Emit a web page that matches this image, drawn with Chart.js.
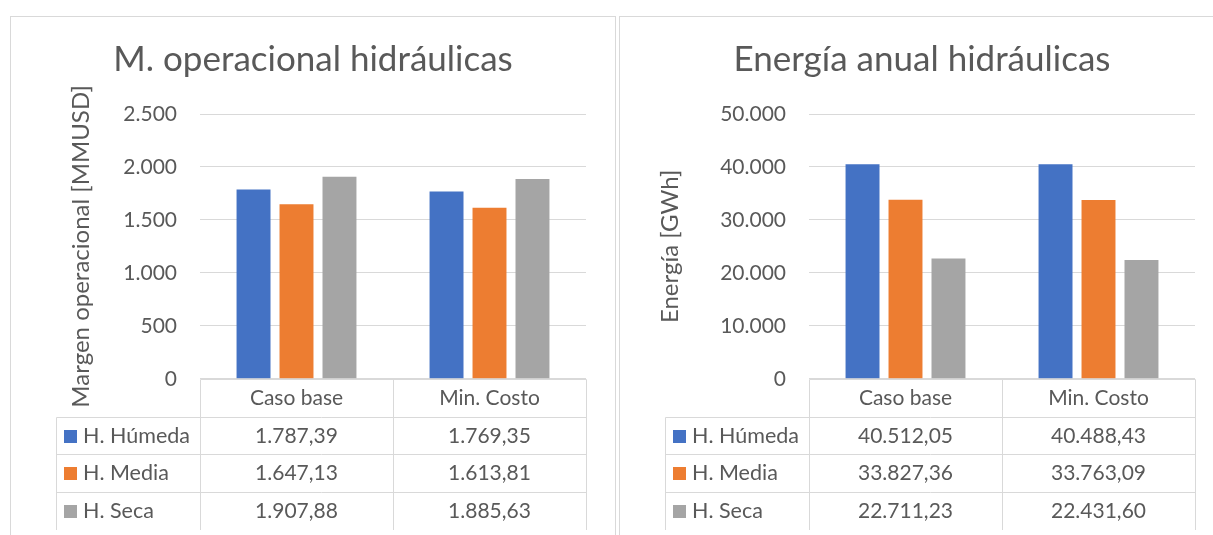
<!DOCTYPE html>
<html>
<head>
<meta charset="utf-8">
<title>Hidráulicas</title>
<script src="https://cdn.jsdelivr.net/npm/chart.js@4.4.1/dist/chart.umd.min.js"></script>
<style>
  html, body { margin: 0; padding: 0; background: #fff; width: 1213px; height: 535px; overflow: hidden; }
  .box { position: absolute; top: 16px; width: 604px; height: 540px; border: 1px solid #d9d9d9; background: #fff; overflow: hidden; }
  #box1 { left: 10px; }
  #box2 { left: 619px; }
  canvas { position: absolute; left: 0; top: 0; }
</style>
</head>
<body>
<div class="box" id="box1"><canvas id="chart-margen" width="604" height="513"></canvas></div>
<div class="box" id="box2"><canvas id="chart-energia" width="604" height="513"></canvas></div>

<script>
// ==========================
// DATOS
// ==========================
var categories  = ['Caso base', 'Min. Costo'];
var seriesNames = ['H. Húmeda', 'H. Media', 'H. Seca'];
var seriesColors = ['#4472C4', '#ED7D31', '#A5A5A5'];

var margenHumeda = [1787.39, 1769.35];
var margenMedia  = [1647.13, 1613.81];
var margenSeca   = [1907.88, 1885.63];

var energiaHumeda = [40512.05, 40488.43];
var energiaMedia  = [33827.36, 33763.09];
var energiaSeca   = [22711.23, 22431.60];

var FONT  = 'Lato';
var TEXT  = '#595959';
var LINES = '#d9d9d9';
var ROW_H = 37.8;

// 1787.39 -> "1.787,39"
function fmtNum(v, dec) {
  var parts = v.toFixed(dec).split('.');
  var ent = parts[0].replace(/\B(?=(\d{3})+(?!\d))/g, '.');
  return dec ? ent + ',' + parts[1] : ent;
}

// ==========================
// TABLA DE DATOS (debajo del eje)
// ==========================
var dataTablePlugin = {
  id: 'dataTable',
  afterDraw: function(chart) {
    var ctx = chart.ctx;
    var area = chart.chartArea;
    var xs = chart.scales.x;
    var tableLeft = 45;
    var y0 = area.bottom;
    var rows = [];
    for (var i = 0; i <= 4; i++) rows.push(Math.round(y0 + i * ROW_H) + 0.5);

    var half = (xs.getPixelForValue(1) - xs.getPixelForValue(0)) / 2;
    var cols = [area.left];
    for (var c = 0; c < categories.length; c++) {
      cols.push(xs.getPixelForValue(c) + half);
    }
    cols = cols.map(function(x) { return Math.round(x) + 0.5; });

    ctx.save();
    ctx.strokeStyle = LINES;
    ctx.lineWidth = 1;
    ctx.beginPath();
    // horizontales
    ctx.moveTo(cols[0], rows[0]); ctx.lineTo(cols[cols.length - 1], rows[0]);
    for (var r = 1; r <= 4; r++) {
      ctx.moveTo(tableLeft + 0.5, rows[r]); ctx.lineTo(cols[cols.length - 1], rows[r]);
    }
    // verticales
    ctx.moveTo(tableLeft + 0.5, rows[1]); ctx.lineTo(tableLeft + 0.5, rows[4]);
    cols.forEach(function(x) { ctx.moveTo(x, rows[0]); ctx.lineTo(x, rows[4]); });
    ctx.stroke();

    ctx.fillStyle = TEXT;
    ctx.font = '21px ' + FONT;
    ctx.textBaseline = 'middle';
    ctx.textAlign = 'center';
    categories.forEach(function(cat, k) {
      ctx.fillText(cat, xs.getPixelForValue(k), (rows[0] + rows[1]) / 2);
    });

    chart.data.datasets.forEach(function(ds, s) {
      var cy = (rows[s + 1] + rows[s + 2]) / 2;
      ctx.fillStyle = ds.backgroundColor;
      ctx.fillRect(tableLeft + 8, Math.round(cy - 6.5), 13, 13);
      ctx.fillStyle = TEXT;
      ctx.textAlign = 'left';
      ctx.font = '21.5px ' + FONT;
      ctx.fillText(ds.label, tableLeft + 27, cy);
      ctx.font = '21px ' + FONT;
      ctx.textAlign = 'center';
      ds.data.forEach(function(v, k) {
        ctx.fillText(fmtNum(v, 2), xs.getPixelForValue(k), cy);
      });
    });
    ctx.restore();
  }
};

// ==========================
// GRAFICO
// ==========================
function makeChart(canvasId, title, yTitle, yMax, yStep, series, yTitlePad) {
  var datasets = series.map(function(values, i) {
    return {
      label: seriesNames[i],
      data: values,
      backgroundColor: seriesColors[i],
      borderWidth: 0,
      categoryPercentage: 0.668,
      barPercentage: 0.79
    };
  });

  return new Chart(document.getElementById(canvasId), {
    type: 'bar',
    data: { labels: categories, datasets: datasets },
    plugins: [dataTablePlugin],
    options: {
      responsive: false,
      animation: false,
      layout: { padding: 0 },
      plugins: {
        legend: { display: false },
        tooltip: { enabled: false },
        title: {
          display: true,
          text: title,
          color: TEXT,
          font: { family: FONT, size: 35, weight: 'normal' },
          padding: { top: 22, bottom: 33 }
        }
      },
      scales: {
        x: {
          ticks: { display: false },
          grid: { display: false },
          border: { display: false },
          afterFit: function(scale) { scale.height = 4 * ROW_H; }
        },
        y: {
          min: 0,
          max: yMax,
          ticks: {
            stepSize: yStep,
            padding: 23,
            color: TEXT,
            font: { family: FONT, size: 21 },
            callback: function(v) { return fmtNum(v, 0); }
          },
          grid: { color: LINES, lineWidth: 1, drawTicks: false },
          border: { display: false },
          title: {
            display: true,
            text: yTitle,
            color: TEXT,
            font: { family: FONT, size: 24 },
            padding: { top: yTitlePad, bottom: 0 }
          },
          afterFit: function(scale) { scale.width = 189; }
        },
        // margen derecho vacio, asi el titulo queda centrado en el recuadro
        margenDer: {
          type: 'linear',
          position: 'right',
          ticks: { display: false },
          grid: { display: false },
          border: { display: false },
          afterFit: function(scale) { scale.width = 29; }
        }
      }
    }
  });
}

makeChart('chart-margen', 'M. operacional hidráulicas', 'Margen operacional [MMUSD]',
  2500, 500, [margenHumeda, margenMedia, margenSeca], 56);

makeChart('chart-energia', 'Energía anual hidráulicas', 'Energía [GWh]',
  50000, 10000, [energiaHumeda, energiaMedia, energiaSeca], 36);
</script>
</body>
</html>
